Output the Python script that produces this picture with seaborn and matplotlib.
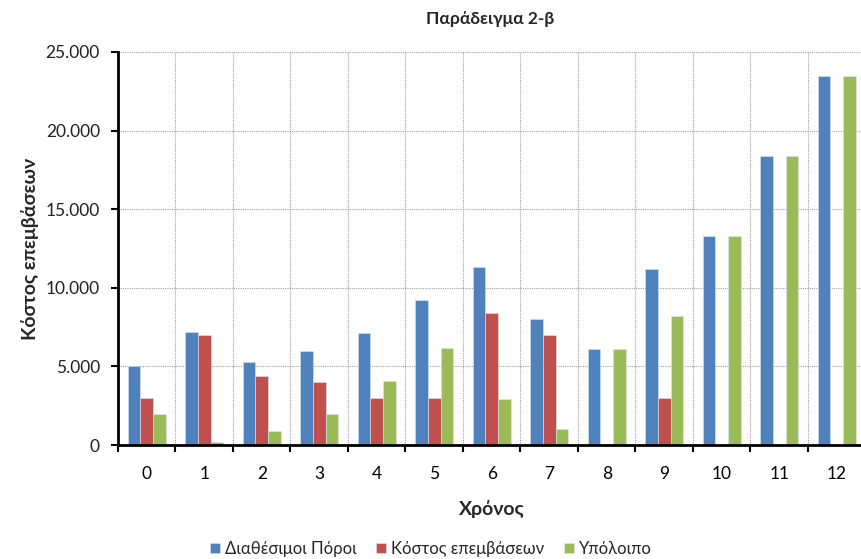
import matplotlib
matplotlib.use("Agg")
import matplotlib.pyplot as plt
from matplotlib.ticker import FixedLocator, FuncFormatter, MultipleLocator
import seaborn as sns
import pandas as pd

# Data
years = list(range(13))
series_names = ["Διαθέσιμοι Πόροι", "Κόστος επεμβάσεων", "Υπόλοιπο"]
available = [5000, 7200, 5300, 6000, 7100, 9200, 11300, 8000, 6100, 11200, 13300, 18400, 23500]
cost = [3000, 7000, 4400, 4000, 3000, 3000, 8400, 7000, 0, 3000, 0, 0, 0]
remaining = [2000, 200, 900, 2000, 4100, 6200, 2900, 1000, 6100, 8200, 13300, 18400, 23500]
colors = ["#4F81BD", "#C0504D", "#9BBB59"]

title = "Παράδειγμα 2-β"
xlabel = "Χρόνος"
ylabel = "Κόστος επεμβάσεων"

df = pd.DataFrame({
    "year": [str(y) for y in years] * 3,
    "series": [series_names[0]] * 13 + [series_names[1]] * 13 + [series_names[2]] * 13,
    "value": available + cost + remaining,
})

sns.set_theme(style="white")
FONT = ["Lato", "Open Sans", "DejaVu Sans"]
plt.rcParams["font.family"] = FONT

W, H = 862, 559
fig = plt.figure(figsize=(W / 100, H / 100), dpi=100)
ax = fig.add_axes([118 / W, (H - 445) / H, (865.5 - 118) / W, (445 - 52) / H])

sns.barplot(
    data=df, x="year", y="value", hue="series",
    order=[str(y) for y in years], hue_order=series_names,
    palette=colors, saturation=1, width=0.667, ax=ax, legend=True,
    edgecolor="#dde6f0", linewidth=0.4,
)

ax.set_xlim(-0.5, 12.5)
ax.set_ylim(0, 25000)

# y axis
ax.yaxis.set_major_locator(MultipleLocator(5000))
ax.yaxis.set_major_formatter(FuncFormatter(lambda v, p: "0" if v == 0 else f"{int(v):,}".replace(",", ".")))

# x axis: ticks between categories, labels at category centres
ax.xaxis.set_major_locator(FixedLocator([i - 0.5 for i in range(14)]))
ax.xaxis.set_minor_locator(FixedLocator(years))
ax.xaxis.set_major_formatter(FuncFormatter(lambda v, p: ""))
ax.xaxis.set_minor_formatter(FuncFormatter(lambda v, p: str(int(round(v)))))

ax.tick_params(axis="x", which="major", direction="out", length=5, width=1.5, color="black", bottom=True)
ax.tick_params(axis="x", which="minor", length=0, pad=15, labelsize=12.5, labelcolor="black", bottom=True)
ax.tick_params(axis="y", which="major", direction="out", length=5, width=1.5, color="black", left=True,
               labelsize=12.5, labelcolor="#222222", pad=8)

ax.grid(True, which="major", axis="both", linestyle=(0, (1, 1)), color="#a0a0a0", linewidth=0.8)
ax.set_axisbelow(True)

for side in ["top", "right"]:
    ax.spines[side].set_visible(False)
for side in ["left", "bottom"]:
    ax.spines[side].set_color("black")
    ax.spines[side].set_linewidth(2)

ax.set_xlabel(xlabel, fontsize=14, fontweight="bold", labelpad=13)
ax.set_ylabel(ylabel, fontsize=14, fontweight="bold", labelpad=5)

fig.text(490 / W, 1 - 19 / H, title, ha="center", va="center", fontsize=12.5, fontweight="bold")

handles, labels = ax.get_legend_handles_labels()
ax.legend_.remove()
fig.legend(handles, labels, loc="center", bbox_to_anchor=(431 / W, 1 - 549 / H), ncol=3,
           frameon=False, fontsize=12, handlelength=0.6, handleheight=0.6,
           handletextpad=0.3, columnspacing=1.2, borderpad=0)

fig.savefig("out.png", dpi=100)
